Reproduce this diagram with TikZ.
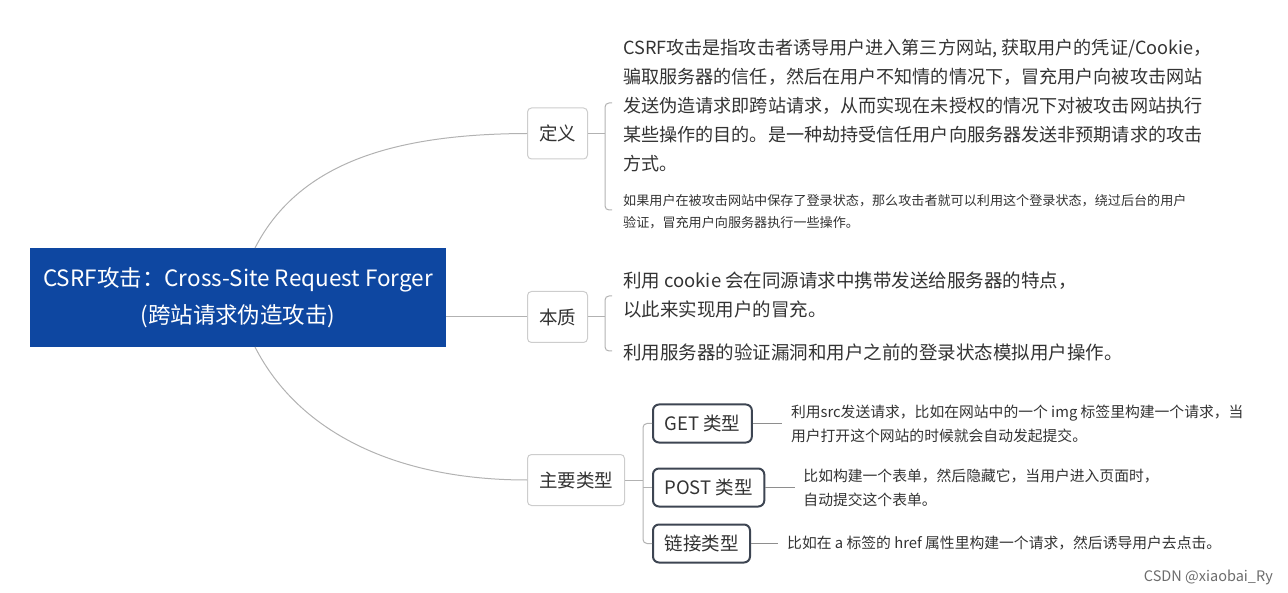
\documentclass[tikz,border=0pt]{standalone}
\usepackage{fontspec}
\setmainfont{Noto Sans CJK SC}
\usetikzlibrary{positioning}

\definecolor{rootblue}{RGB}{14,71,161}
\definecolor{topicgray}{RGB}{205,205,205}
\definecolor{subdark}{RGB}{61,69,82}
\definecolor{linkgray}{RGB}{178,178,178}
\definecolor{textgray}{RGB}{51,51,51}

\begin{document}
\begin{tikzpicture}[x=1pt,y=-1pt,
	topic/.style={draw=topicgray,line width=1pt,rounded corners=4pt,fill=white,text=textgray,
		font=\fontsize{18.5}{22}\selectfont,inner xsep=11.5pt,inner ysep=0pt,minimum height=51pt,anchor=west},
	subtopic/.style={draw=subdark,line width=2pt,rounded corners=6pt,fill=white,text=textgray,
		font=\fontsize{18.5}{22}\selectfont,inner xsep=11.5pt,inner ysep=0pt,minimum height=38pt,anchor=west},
	bigtxt/.style={anchor=north west,align=left,inner sep=0pt,text=textgray,font=\fontsize{18.5}{29}\selectfont},
	smalltxt/.style={anchor=north west,align=left,inner sep=0pt,text=textgray,font=\fontsize{13.1}{22}\selectfont},
	typetxt/.style={anchor=west,align=left,inner sep=0pt,text=textgray,font=\fontsize{14.8}{24}\selectfont},
	link/.style={draw=linkgray,line width=1pt},
	leaflink/.style={draw=linkgray!80!black,line width=1.6pt}]
	\useasboundingbox (0,0) rectangle (1288,593);

	% root
	\node[fill=rootblue,text=white,align=center,minimum width=416pt,minimum height=99pt,inner sep=0pt,
		font=\fontsize{22.5}{37}\selectfont] (root) at (238,297.5)
		{CSRF攻击：Cross-Site Request Forger\\(跨站请求伪造攻击)};
	\coordinate (rootTop) at (255,248);
	\coordinate (rootBot) at (255,347);

	% topics
	\node[topic] (def) at (527,133.5) {定义};
	\node[topic] (ess) at (527,317) {本质};
	\node[topic] (types) at (527,480) {主要类型};

	\draw[link] (rootTop) .. controls (300,160) and (400,134) .. (def.west);
	\draw[link] (root.east |- ess.west) -- (ess.west);
	\draw[link] (rootBot) .. controls (300,435) and (400,480) .. (types.west);

	% definition
	\node[bigtxt,font=\fontsize{18.1}{29}\selectfont] (defTxt) at (623,39) {CSRF攻击是指攻击者诱导用户进入第三方网站, 获取用户的凭证/Cookie，\\骗取服务器的信任，然后在用户不知情的情况下，冒充用户向被攻击网站\\发送伪造请求即跨站请求，从而实现在未授权的情况下对被攻击网站执行\\某些操作的目的。是一种劫持受信任用户向服务器发送非预期请求的攻击\\方式。};
	\node[smalltxt] (defNote) at (623,194) {如果用户在被攻击网站中保存了登录状态，那么攻击者就可以利用这个登录状态，绕过后台的用户\\验证，冒充用户向服务器执行一些操作。};
	\coordinate (defB) at (605,133.5);
	\coordinate (defTop) at (612,103);
	\coordinate (defBot) at (612,210);
	\draw[link] (def.east) -- (defB);
	\draw[link,rounded corners=4pt] (defTop) -| (defB) |- (defBot);

	% essence
	\node[bigtxt] (essTxt) at (623,272) {利用 cookie 会在同源请求中携带发送给服务器的特点，\\以此来实现用户的冒充。};
	\node[bigtxt] (essTxt2) at (623,344) {利用服务器的验证漏洞和用户之前的登录状态模拟用户操作。};
	\coordinate (essB) at (605,317);
	\coordinate (essTop) at (612,296);
	\coordinate (essBot) at (612,351);
	\draw[link] (ess.east) -- (essB);
	\draw[link,rounded corners=4pt] (essTop) -| (essB) |- (essBot);

	% types
	\node[subtopic] (get) at (652,423.5) {GET 类型};
	\node[subtopic] (post) at (652,487.5) {POST 类型};
	\node[subtopic] (link) at (652,543.5) {链接类型};
	\coordinate (typesB) at (643,480);
	\draw[link] (types.east) -- (typesB);
	\draw[link,rounded corners=4pt] (get.west) -| (typesB) |- (link.west);
	\draw[link] (typesB |- post.west) -- (post.west);

	\node[typetxt,right=38pt of get] (getTxt) {利用src发送请求，比如在网站中的一个 img 标签里构建一个请求，当\\用户打开这个网站的时候就会自动发起提交。};
	\node[typetxt,right=38pt of post] (postTxt) {比如构建一个表单，然后隐藏它，当用户进入页面时，\\自动提交这个表单。};
	\node[typetxt,right=36pt of link] (linkTxt) {比如在 a 标签的 href 属性里构建一个请求，然后诱导用户去点击。};
	\draw[leaflink,shorten >=9pt] (get.east) -- (getTxt.west |- get.east);
	\draw[leaflink,shorten >=8pt] (post.east) -- (postTxt.west |- post.east);
	\draw[leaflink,shorten >=9pt] (link.east) -- (linkTxt.west |- link.east);

	% watermark
	\node[anchor=east,inner sep=0pt,text=gray!85!black,font=\fontsize{14.5}{16}\selectfont] (mark) at (1273,577) {CSDN @xiaobai\_Ry};
\end{tikzpicture}
\end{document}
